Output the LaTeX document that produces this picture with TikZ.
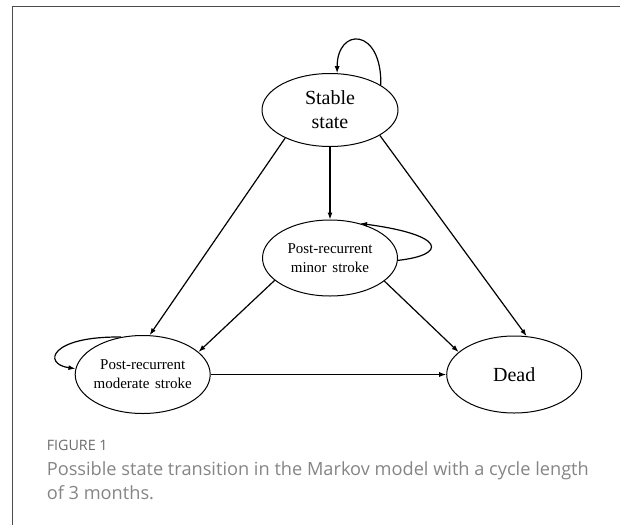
\documentclass[tikz,border=0pt]{standalone}
\usepackage{fontspec}
\setmainfont{Liberation Serif}
\newfontfamily\capfont{Open Sans}
\usetikzlibrary{arrows.meta,shapes.geometric}
\begin{document}
\begin{tikzpicture}[x=1pt,y=-1pt,
  state/.style={ellipse, draw, line width=1pt, minimum width=135pt, minimum height=77pt, inner sep=0pt},
  big/.style={font=\fontsize{20}{24}\selectfont, align=center, inner sep=0pt},
  small/.style={font=\fontsize{15}{19}\selectfont, align=center, inner sep=0pt},
  conn/.style={line width=1.2pt, -{Latex[length=7pt,width=5pt]}},
  frame/.style={draw=black!70, line width=1.2pt},
  captxt/.style={anchor=base west, inner sep=0pt}]
\useasboundingbox (0,0) rectangle (620,525);
\draw[frame] (12.6,525) -- (12.6,6.7) -- (620,6.7);

\node[state, minimum width=136pt, minimum height=73pt, label={[big]center:Stable\\state}] (stable) at (330,110) {};
\node[state, minimum height=76pt, label={[small]center:Post-recurrent\\minor\hspace{2pt} stroke}] (minor) at (330,258) {};
\node[state, minimum height=78pt, label={[small]center:Post-recurrent\\moderate\hspace{2pt} stroke}] (moderate) at (142.7,374.5) {};
\node[state, minimum height=77pt, label={[big]center:Dead}] (dead) at (514.2,374.5) {};

\draw[conn] (stable.212) -- (moderate.80);
\draw[conn] (stable.270) -- (minor.90);
\draw[conn] (stable.333) -- (dead.72);
\draw[conn] (minor.202) -- (moderate.22);
\draw[conn] (minor.337) -- (dead.158);
\draw[conn] (moderate.0) -- (dead.180);

\draw[conn] (stable.26) .. controls (382,27) and (337,27) .. (stable.79);
\draw[conn] (minor.358) .. controls (447,255) and (447,235) .. (minor.49);
\draw[conn] (moderate.120) .. controls (50,336) and (42,364) .. (moderate.175);

\node[captxt, font=\capfont\fontsize{14.3}{15}\selectfont, text=black!58] (fig) at (46.6,450.7) {FIGURE 1};
\node[captxt, font=\capfont\fontsize{18.2}{18}\selectfont, text=black!48] (cap1) at (46.6,475) {Possible state transition in the Markov model with a cycle length};
\node[captxt, font=\capfont\fontsize{18.2}{18}\selectfont, text=black!48] (cap2) at (46.6,499.5) {of 3 months.};
\end{tikzpicture}
\end{document}
